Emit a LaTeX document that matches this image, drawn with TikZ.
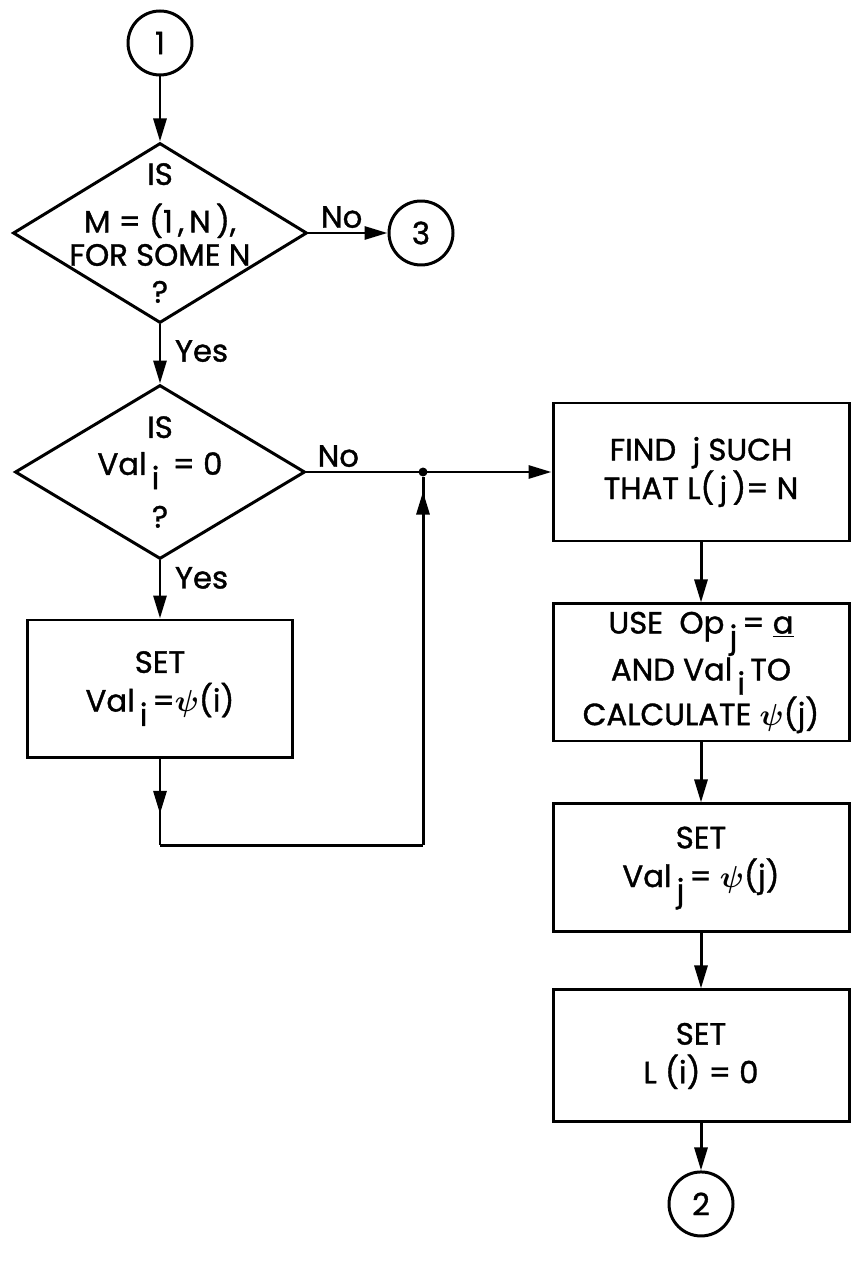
\documentclass[tikz,border=0pt]{standalone}
\usepackage{fontspec}
\setmainfont{Poppins}[FakeBold=1.2]
\usepackage{bm}
\usetikzlibrary{arrows.meta,positioning,shapes.geometric,decorations.markings}
\newcommand{\lowidx}[1]{\,\raisebox{-0.85ex}{#1}\,}
\newcommand{\chartfont}{\fontsize{17.5}{22}\selectfont}

\begin{document}
\begin{tikzpicture}[node distance=12mm,box/.style={rectangle,draw,line width=1.7pt,align=center,minimum width=5.92cm,minimum height=2.7cm,font=\chartfont},dec/.style={diamond,draw,line width=1.7pt,minimum width=5.88cm,minimum height=3.6cm,inner sep=0pt},conn/.style={circle,draw,line width=1.7pt,minimum size=1.28cm,inner sep=0pt,font=\chartfont},lbl/.style={font=\chartfont,inner sep=2pt},arrow/.style={-{Triangle[length=4.6mm,width=2.6mm]},line width=1.7pt},midarrow/.style={line width=1.7pt,postaction={decorate},decoration={markings,mark=at position #1 with {\arrow{Triangle[length=4.6mm,width=2.6mm]}}}}]
\useasboundingbox (0,0) rectangle (17,-25.24);
\node[conn](one) at (3.2,-0.86){1};
\node[dec,label={[align=center,font=\fontsize{17.5}{19}\selectfont]center:{IS\\[8pt]M = (1\,,\,N\,),\\FOR SOME N\\[2pt]?}}](d1) at (3.2,-4.66){};
\node[conn](three) at (8.42,-4.66){3};
\node[dec,minimum width=5.8cm,minimum height=3.48cm,label={[align=center,font=\fontsize{17.5}{21}\selectfont]center:{IS\\Val\lowidx{i} = 0\\[9pt]?}}](d2) at (3.2,-9.44){};
\node[box,minimum width=5.3cm,minimum height=2.74cm](seti) at (3.2,-13.77){SET\\Val\lowidx{i}=$\bm\psi$(i)};
\node[circle,fill,inner sep=1.8pt](dot) at (8.46,-9.44){};
\coordinate (c1) at (3.2,-16.9);
\coordinate (c2) at (8.46,-16.9);
\node[box,minimum height=2.76cm](find) at (14.02,-9.44){FIND\ \ j SUCH\\THAT L(\,j\,)= N};
\node[box,minimum height=2.74cm,below=of find](use){USE\ \ Op\lowidx{j}= \underline{a}\\AND Val\lowidx{i}TO\\CALCULATE $\bm\psi$(j)};
\node[box,minimum height=2.56cm,below=of use](setj){SET\\Val\lowidx{j}= $\bm\psi$(j)};
\node[box,minimum height=2.64cm,below=11mm of setj](setl){SET\\L (i) = 0};
\node[conn,below=9.4mm of setl](two){2};
\foreach \x/\y in {one/d1,find/use,use/setj,setj/setl,setl/two}{\draw[arrow](\x)--(\y);}
\draw[arrow](d1.east)--node[lbl,above,pos=0.42](no1){No}(three);
\draw[arrow](d1.south)--node[lbl,anchor=west,xshift=2mm,pos=0.45](yes1){Yes}(d2.north);
\draw[arrow](d2.east)--node[lbl,above,pos=0.13](no2){No}(find.west);
\draw[arrow](d2.south)--node[lbl,anchor=west,xshift=2mm,pos=0.3](yes2){Yes}(seti.north);
\draw[midarrow=0.64](seti.south)--(c1);
\draw[line width=1.7pt](c1)--(c2);
\draw[midarrow=0.96](c2)--(dot);
\end{tikzpicture}
\end{document}
